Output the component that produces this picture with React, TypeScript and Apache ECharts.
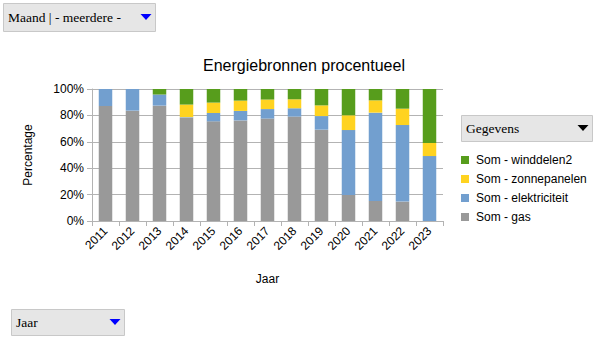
import React, { useEffect, useRef } from "react";
import * as echarts from "echarts";

const years = ["2011","2012","2013","2014","2015","2016","2017","2018","2019","2020","2021","2022","2023"];
const gas = [87.1, 83.6, 87.4, 78.3, 75.5, 76.2, 77.6, 79.1, 69.2, 19.7, 15.2, 14.7, 0];
const elektriciteit = [12.9, 16.4, 8.4, 0.4, 6.3, 7.2, 7.2, 6.3, 10.3, 49.2, 66.9, 58.0, 49.2];
const zonnepanelen = [0, 0, 0, 9.5, 7.9, 7.8, 7.2, 6.8, 8.1, 11.2, 9.3, 12.4, 9.9];
const winddelen2 = [0, 0, 4.2, 11.8, 10.3, 8.8, 8.0, 7.8, 12.4, 19.9, 8.6, 14.9, 40.9];
const yTicks = [0, 20, 40, 60, 80, 100];

const seriesNames = ["Som - gas", "Som - elektriciteit", "Som - zonnepanelen", "Som - winddelen2"];
const colors = ["#999999", "#729fcf", "#ffd320", "#579d1c"];

function dropdown(x: number, y: number, w: number, h: number, label: string, triColor: string) {
  const tx = x + w - 9;
  const ty = y + h / 2;
  return [
    { type: "rect", shape: { x: x + 0.5, y: y + 0.5, width: w, height: h }, style: { fill: "#e6e6e6", stroke: "#c8c8c8", lineWidth: 1 } },
    { type: "text", x: x + 5, y: ty, style: { text: label, font: '13.5px "Liberation Serif", "DejaVu Serif", serif', fill: "#000000", verticalAlign: "middle", align: "left" } },
    { type: "polygon", shape: { points: [[tx - 5.5, ty - 3], [tx + 5.5, ty - 3], [tx, ty + 3]] }, style: { fill: triColor } },
  ];
}

export default function App() {
  const ref = useRef<HTMLDivElement>(null);
  useEffect(() => {
    if (!ref.current) return;
    const chart = echarts.init(ref.current, null, { renderer: "svg" });
    const dataSets = [gas, elektriciteit, zonnepanelen, winddelen2];
    const font = '"Liberation Sans", Arial, sans-serif';
    chart.setOption({
      animation: false,
      backgroundColor: "#ffffff",
      textStyle: { fontFamily: font },
      title: {
        text: "Energiebronnen procentueel",
        left: 198,
        top: 52,
        textStyle: { fontSize: 16, fontWeight: "normal", color: "#000000", fontFamily: font },
      },
      grid: { left: 92, top: 89, width: 351, height: 132, containLabel: false },
      legend: {
        orient: "vertical",
        left: 461,
        top: 154,
        itemWidth: 8,
        itemHeight: 8,
        itemGap: 7,
        icon: "rect",
        data: [seriesNames[3], seriesNames[2], seriesNames[1], seriesNames[0]],
        textStyle: { fontSize: 12, color: "#000000", fontFamily: font, padding: [0, 0, 0, 2] },
        padding: 0,
      },
      xAxis: {
        type: "category",
        data: years,
        name: "Jaar",
        nameLocation: "middle",
        nameGap: 52,
        nameTextStyle: { fontSize: 12, color: "#000000", fontFamily: font },
        axisLine: { lineStyle: { color: "#b3b3b3" } },
        axisTick: { show: true, alignWithLabel: false, length: 5, lineStyle: { color: "#b3b3b3" } },
        axisLabel: { rotate: 45, fontSize: 12, color: "#000000", fontFamily: font, margin: 8 },
      },
      yAxis: {
        type: "value",
        min: 0,
        max: 100,
        interval: 20,
        name: "Percentage",
        nameLocation: "middle",
        nameGap: 58,
        nameTextStyle: { fontSize: 12, color: "#000000", fontFamily: font },
        axisLine: { show: true, lineStyle: { color: "#b3b3b3" } },
        axisTick: { show: true, length: 5, lineStyle: { color: "#b3b3b3" } },
        splitLine: { lineStyle: { color: "#b3b3b3" } },
        axisLabel: {
          fontSize: 12,
          color: "#000000",
          fontFamily: font,
          margin: 8,
          formatter: (v: number) => (yTicks.includes(v) ? v + "%" : ""),
        },
      },
      series: dataSets.map((d, i) => ({
        name: seriesNames[i],
        type: "bar",
        stack: "total",
        barWidth: "50%",
        data: d,
        itemStyle: { color: colors[i] },
      })),
      graphic: [
        ...dropdown(3, 3, 152, 28, "Maand | - meerdere -", "#0000ff"),
        ...dropdown(461, 115, 131, 26, "Gegevens", "#000000"),
        ...dropdown(11, 309, 113, 26, "Jaar", "#0000ff"),
      ],
    });
    return () => chart.dispose();
  }, []);
  return <div ref={ref} style={{ position: "absolute", left: 0, top: 0, width: 605, height: 340 }} />;
}
